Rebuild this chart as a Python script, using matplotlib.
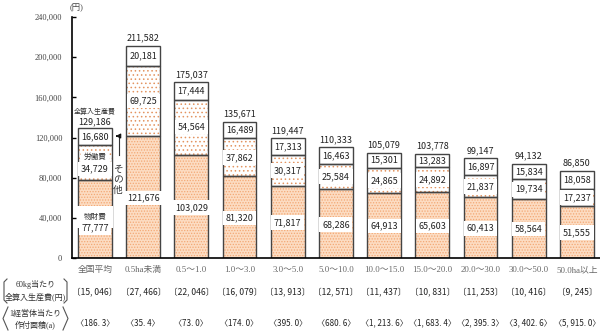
import numpy as np
import matplotlib.pyplot as plt
from matplotlib.lines import Line2D

plt.rcParams['font.family'] = ['Noto Sans CJK JP', 'DejaVu Sans']
serif = ['Liberation Serif', 'Noto Sans CJK JP']

categories = ['全国平均', '0.5ha未満', '0.5～1.0', '1.0～3.0', '3.0～5.0', '5.0～10.0',
              '10.0～15.0', '15.0～20.0', '20.0～30.0', '30.0～50.0', '50.0ha以上']
material = [77777, 121676, 103029, 81320, 71817, 68286, 64913, 65603, 60413, 58564, 51555]
labor = [34729, 69725, 54564, 37862, 30317, 25584, 24865, 24892, 21837, 19734, 17237]
other = [16680, 20181, 17444, 16489, 17313, 16463, 15301, 13283, 16897, 15834, 18058]
total = [129186, 211582, 175037, 135671, 119447, 110333, 105079, 103778, 99147, 94132, 86850]
cost_per_60kg = ['15, 046', '27, 466', '22, 046', '16, 079', '13, 913', '12, 571',
                 '11, 437', '10, 831', '11, 253', '10, 416', '9, 245']
area_per_farm = ['186. 3', '35. 4', '73. 0', '174. 0', '395. 0', '680. 6',
                 '1, 213. 6', '1, 683. 4', '2, 395. 3', '3, 402. 6', '5, 915. 0']

x = np.arange(len(categories))
material = np.array(material)
labor = np.array(labor)
other = np.array(other)
w = 0.7
edge = '#444444'

fig = plt.figure(figsize=(6, 3.31), dpi=100)
ax = fig.add_axes([0.12, 0.2205, 0.88, 0.728])

plt.rcParams['hatch.linewidth'] = 0.6
# 物財費: peach fill with dense dots
ax.bar(x, material, w, color='#fcdcc2', edgecolor='#f3a875', hatch='......', linewidth=0)
# 労働費: white with sparse dots
ax.bar(x, labor, w, bottom=material, color='white', edgecolor='#e39460', hatch='....', linewidth=0)
# その他: plain white
ax.bar(x, other, w, bottom=material + labor, color='white', linewidth=0)
# outlines of each segment
for vals, bot in [(material, 0), (labor, material), (other, material + labor)]:
    ax.bar(x, vals, w, bottom=bot, fill=False, edgecolor=edge, linewidth=1.0)

box = dict(boxstyle='square,pad=0.3', facecolor='white', edgecolor='none')
fs = 6.5
for i in range(len(x)):
    if i == 0:
        ax.text(x[i], 40800, '物財費', ha='center', va='center', fontsize=5.5,
                color='#333333', bbox=dict(boxstyle='square,pad=0.9', facecolor='white',
                                           edgecolor='none'))
        ax.text(x[i], 29900, f'{material[i]:,}', ha='center', va='center',
                fontsize=fs, color='#222222', bbox=box)
        ax.text(x[i], 100600, '労働費', ha='center', va='center', fontsize=5.5,
                color='#333333', bbox=dict(boxstyle='square,pad=0.3', facecolor='white',
                                           edgecolor='none'))
        ax.text(x[i], 88600, f'{labor[i]:,}', ha='center', va='center', fontsize=fs,
                color='#222222', bbox=box)
        ax.text(x[i], total[i] + 16200, '全算入生産費', ha='center', va='center', fontsize=5,
                color='#333333')
        ax.text(x[i], total[i] + 6200, f'{total[i]:,}', ha='center', va='center',
                fontsize=fs, color='#222222')
    else:
        ax.text(x[i], material[i] * 0.49, f'{material[i]:,}', ha='center', va='center',
                fontsize=fs, color='#222222', bbox=box)
        ax.text(x[i], material[i] + labor[i] / 2, f'{labor[i]:,}', ha='center', va='center',
                fontsize=fs, color='#222222', bbox=box)
        ax.text(x[i], total[i] + 7500, f'{total[i]:,}', ha='center', va='center',
                fontsize=fs, color='#222222')
    ax.text(x[i], material[i] + labor[i] + other[i] / 2, f'{other[i]:,}', ha='center',
            va='center', fontsize=fs, color='#222222')

# その他 callout
ax.plot([0.5, 0.5], [102600, 121500], color='#333333', lw=0.8)
ax.annotate('', xy=(0.37, 121500), xytext=(0.51, 121500),
            arrowprops=dict(arrowstyle='-|>', color='#111111', lw=0.8, mutation_scale=7))
ax.text(0.48, 78500, 'そ\nの\n他', ha='center', va='center', fontsize=7,
        color='#333333', linespacing=1.05)

ax.set_xlim(-0.477, 10.48)
ax.set_ylim(0, 240000)
ax.set_yticks(np.arange(0, 240001, 40000))
ax.set_yticklabels([f'{v:,}' for v in range(0, 240001, 40000)], family=serif,
                   fontsize=6, color='#444444')
ax.tick_params(axis='y', direction='in', length=3, width=1, pad=7)
ax.set_xticks(x)
ax.set_xticklabels(categories, fontsize=6.3, color='#666666', family=serif)
ax.tick_params(axis='x', length=0, pad=6)
for s in ['top', 'right']:
    ax.spines[s].set_visible(False)
ax.spines['left'].set_linewidth(1.2)
ax.spines['bottom'].set_linewidth(1.2)
fig.text(0.127, 0.988, '(円)', fontsize=6, ha='center', va='top', color='#444444',
         family=serif)

# rows under the axis
trans = ax.get_xaxis_transform()
for i in range(len(x)):
    ax.text(x[i], -0.144, f'〔{cost_per_60kg[i]}〕', transform=trans, ha='center',
            va='center', fontsize=6.2, color='#222222', clip_on=False)
    ax.text(x[i], -0.268, f'〈{area_per_farm[i]}〉', transform=trans, ha='center',
            va='center', fontsize=5.8, color='#222222', clip_on=False)

fig.text(0.059, 1 - 290.5 / 331, '60kg当たり\n全算入生産費(円)', ha='center', va='center',
         fontsize=5.8, color='#333333', linespacing=1.4, family=serif)
fig.text(0.059, 1 - 319.5 / 331, '1経営体当たり\n作付面積(a)', ha='center', va='center',
         fontsize=5.8, color='#333333', linespacing=1.4, family=serif)


def px(xp, yp):
    return xp / 600, 1 - yp / 331


def bracket(xs, ys):
    pts = [px(a, b) for a, b in zip(xs, ys)]
    fig.add_artist(Line2D([p[0] for p in pts], [p[1] for p in pts], color='#555555', lw=0.8))


bracket([7, 4, 4, 7], [279, 282, 300, 303])
bracket([64, 67, 67, 64], [279, 282, 300, 303])
bracket([8, 3, 8], [307, 318.5, 330])
bracket([63, 68, 63], [307, 318.5, 330])

fig.savefig('out.png', dpi=100)
